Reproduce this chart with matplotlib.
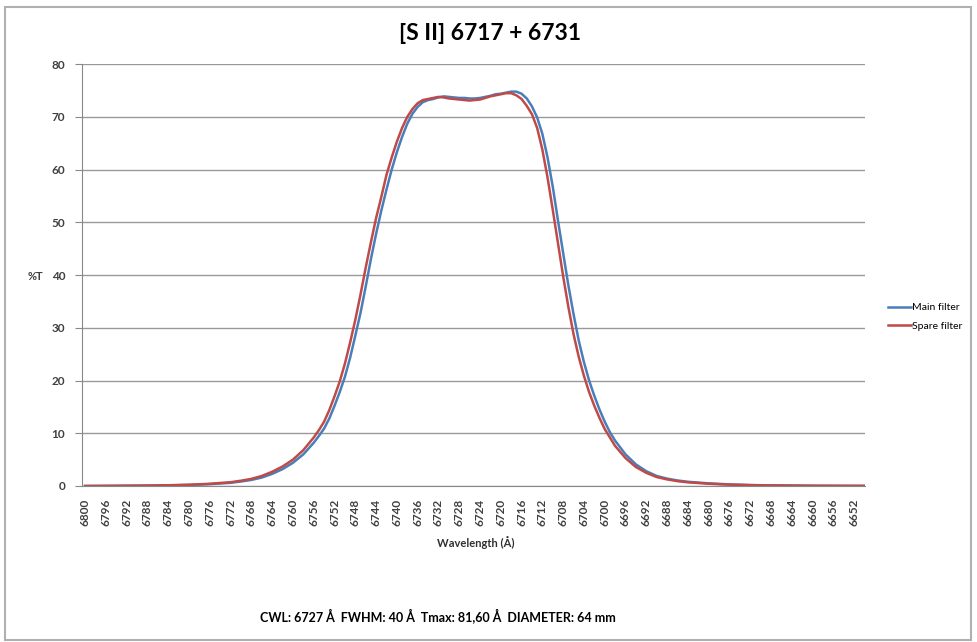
import matplotlib.pyplot as plt
import numpy as np
from matplotlib.patches import Rectangle

plt.rcParams['font.family'] = ['Lato', 'DejaVu Sans']

# Transmission curves (%T) for the [S II] filter pair
wavelength = [6800, 6796, 6792, 6788, 6784, 6780, 6776, 6772, 6770, 6768,
              6766, 6764, 6762, 6760, 6758, 6756, 6755, 6754, 6753, 6752,
              6751, 6750, 6749, 6748, 6747, 6746, 6745, 6744, 6743, 6742,
              6741, 6740, 6739, 6738, 6737, 6736, 6735, 6734, 6733, 6732,
              6731, 6730, 6729, 6728, 6727, 6726, 6725, 6724, 6723, 6722,
              6721, 6720, 6719, 6718, 6717, 6716, 6715, 6714, 6713, 6712,
              6711, 6710, 6709, 6708, 6707, 6706, 6705, 6704, 6703, 6702,
              6701, 6700, 6699, 6698, 6696, 6694, 6692, 6690, 6688, 6686,
              6684, 6680, 6676, 6672, 6668, 6664, 6660, 6656, 6652, 6650]

main_filter = [0.0, 0.02, 0.04, 0.07, 0.12, 0.2, 0.35, 0.6, 0.85, 1.15,
               1.6, 2.3, 3.2, 4.4, 6.0, 8.2, 9.5, 10.9, 12.8, 15.2,
               17.8, 20.7, 24.3, 28.5, 32.8, 37.8, 43.0, 47.8, 52.2, 56.2,
               60.0, 63.3, 66.2, 68.7, 70.6, 71.9, 72.8, 73.2, 73.4, 73.7,
               73.9, 73.8, 73.7, 73.6, 73.6, 73.5, 73.5, 73.6, 73.8, 74.0,
               74.3, 74.4, 74.6, 74.8, 74.8, 74.4, 73.5, 72.0, 69.9, 66.8,
               62.3, 56.8, 50.4, 44.2, 38.1, 32.6, 27.6, 23.5, 20.0, 17.1,
               14.5, 12.2, 10.2, 8.6, 6.0, 4.1, 2.8, 1.9, 1.4, 1.05,
               0.8, 0.5, 0.3, 0.18, 0.12, 0.08, 0.05, 0.03, 0.02, 0.02]

spare_filter = [0.0, 0.02, 0.05, 0.08, 0.14, 0.24, 0.42, 0.72, 1.0, 1.35,
                1.9, 2.7, 3.7, 5.0, 6.8, 9.2, 10.6, 12.2, 14.4, 17.0,
                19.8, 23.2, 27.2, 31.5, 36.3, 41.4, 46.2, 50.8, 54.8, 59.0,
                62.3, 65.3, 67.9, 70.0, 71.5, 72.6, 73.2, 73.4, 73.6, 73.8,
                73.7, 73.5, 73.4, 73.3, 73.2, 73.1, 73.2, 73.3, 73.6, 73.9,
                74.1, 74.3, 74.5, 74.5, 74.1, 73.4, 72.1, 70.5, 67.9, 63.8,
                58.5, 52.4, 46.1, 39.8, 34.0, 28.8, 24.5, 20.9, 17.8, 15.2,
                12.9, 10.8, 9.2, 7.6, 5.3, 3.6, 2.5, 1.7, 1.25, 0.92,
                0.7, 0.43, 0.26, 0.16, 0.1, 0.07, 0.04, 0.03, 0.02, 0.02]

tick_labels = list(range(6800, 6650, -4))
y_ticks = list(range(0, 90, 10))

fig = plt.figure(figsize=(9.77, 6.42), dpi=100)
ax = fig.add_axes([0.0839, 0.243, 0.8015, 0.657])

# chart frame
fig.patches.append(Rectangle((5 / 977, 2 / 642), 966 / 977, 633 / 642,
                             transform=fig.transFigure, fill=False,
                             edgecolor='#b0b0b0', linewidth=1.5))

ax.plot(wavelength, main_filter, color='#4a7ebb', linewidth=1.8, label='Main filter')
ax.plot(wavelength, spare_filter, color='#be4b48', linewidth=1.8, label='Spare filter')

ax.set_xlim(6800.6, 6649.9)
ax.set_ylim(0, 80)
ax.set_yticks(y_ticks)
ax.set_xticks(tick_labels)
ax.set_xticklabels([str(t) for t in tick_labels], rotation=90,
                   fontsize=8.5, fontweight='bold', color='#404040')
ax.tick_params(axis='x', length=0, pad=9)
ax.tick_params(axis='y', length=5, color='#888888', labelsize=8.5,
               labelcolor='#404040', pad=7)
for lbl in ax.get_yticklabels():
    lbl.set_fontweight('bold')

ax.grid(axis='y', color='#999999', linewidth=1)
ax.set_axisbelow(True)
for side in ['top', 'right']:
    ax.spines[side].set_visible(False)
for side in ['left', 'bottom']:
    ax.spines[side].set_color('#888888')

fig.text(490 / 977, 1 - 34 / 642, '[S II] 6717 + 6731', ha='center', va='center',
         fontsize=16.5, fontweight='bold')
fig.text(35 / 977, 1 - 276 / 642, '%T', ha='center', va='center',
         fontsize=8, fontweight='bold', color='#404040')
fig.text(476 / 977, 1 - 543 / 642, 'Wavelength (Å)', ha='center', va='center',
         fontsize=8, fontweight='bold', color='#303030')
fig.text(438 / 977, 1 - 616 / 642,
         'CWL: 6727 Å  FWHM: 40 Å  Tmax: 81,60 Å  DIAMETER: 64 mm',
         ha='center', va='center', fontsize=9, fontweight='bold')

fig.legend(loc='center left', bbox_to_anchor=(884 / 977, 1 - 317 / 642),
           frameon=False, fontsize=7.5, handlelength=2.2, handletextpad=0.1,
           labelspacing=0.9, borderaxespad=0)

fig.savefig('out.png', dpi=100)
